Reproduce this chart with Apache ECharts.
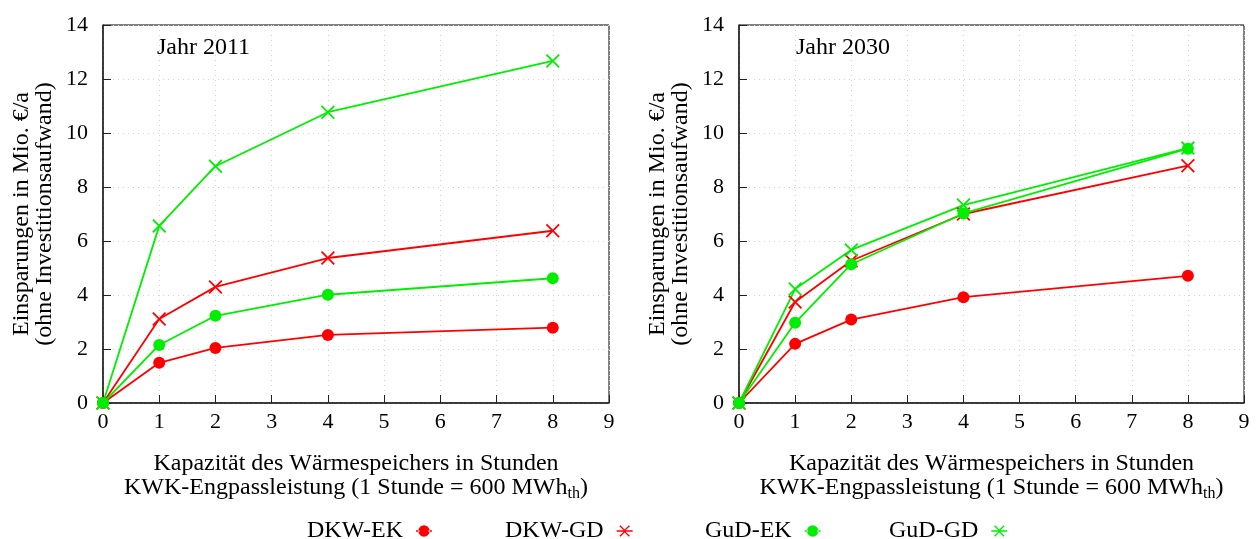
<!DOCTYPE html>
<html>
<head>
<meta charset="utf-8">
<script src="https://cdn.jsdelivr.net/npm/echarts@6/dist/echarts.min.js"></script>
<style>
    html, body {margin: 0; padding: 0; background: #fff;}
    #main {width: 1257px; height: 539px;}
</style>
</head>
<body>
<div id="main"></div>
<script>
    // Kapazität in Stunden
    var hours = [0, 1, 2, 4, 8];
    var seriesNames = ['DKW-EK', 'DKW-GD', 'GuD-EK', 'GuD-GD'];

    // Jahr 2011
    var dkwEk2011 = [0, 1.49, 2.04, 2.52, 2.79];
    var dkwGd2011 = [0, 3.11, 4.3, 5.37, 6.38];
    var gudEk2011 = [0, 2.15, 3.23, 4.01, 4.62];
    var gudGd2011 = [0, 6.56, 8.77, 10.77, 12.67];

    // Jahr 2030
    var dkwEk2030 = [0, 2.19, 3.09, 3.92, 4.71];
    var dkwGd2030 = [0, 3.74, 5.27, 7.0, 8.79];
    var gudEk2030 = [0, 2.97, 5.14, 7.02, 9.42];
    var gudGd2030 = [0, 4.22, 5.67, 7.33, 9.44];

    var xTicks = [0, 1, 2, 3, 4, 5, 6, 7, 8, 9];
    var yTicks = [0, 2, 4, 6, 8, 10, 12, 14];

    var RED = '#ff0000', GREEN = '#00ee00';
    var FONT = 'Liberation Serif';
    var crossPath = 'path://M0,0.9L0.9,0L5,4.1L9.1,0L10,0.9L5.9,5L10,9.1L9.1,10L5,5.9L0.9,10L0,9.1L4.1,5Z';
    var dotIcon = 'path://M0,4.4h3v1.2h-3z M11,4.4h3v1.2h-3z M2,5a5,5 0 1,0 10,0a5,5 0 1,0 -10,0z';
    var starIcon = 'path://M0,4.4h2.6v1.2h-2.6z M11.4,4.4h2.6v1.2h-2.6z M2.4,0.9L3.3,0L7,3.7L10.7,0L11.6,0.9L7.9,4.4L11.6,4.4L11.6,5.6L7.9,5.6L11.6,9.1L10.7,10L7,6.3L3.3,10L2.4,9.1L6.1,5.6L2.4,5.6L2.4,4.4L6.1,4.4Z';

    function toPairs(vals) {
        return hours.map(function (h, i) {
            return [h, vals[i]];
        });
    }

    function makeSeries(name, vals, color, cross, idx) {
        return {
            name: name,
            type: 'line',
            xAxisIndex: idx,
            yAxisIndex: idx,
            data: toPairs(vals),
            symbol: cross ? crossPath : 'circle',
            symbolSize: cross ? 14 : 12,
            lineStyle: {color: color, width: 1.8},
            itemStyle: {color: color},
            animation: false
        };
    }

    function xAxis(idx) {
        return {
            type: 'value', gridIndex: idx, min: 0, max: 9, interval: 1,
            axisLine: {lineStyle: {color: '#222', width: 1.5}},
            axisTick: {inside: true, length: 8, lineStyle: {color: '#222'}},
            axisLabel: {color: '#000', fontFamily: FONT, fontSize: 22, margin: 8,
                formatter: function (v) { return xTicks.indexOf(v) >= 0 ? String(v) : ''; }},
            splitLine: {show: true, lineStyle: {color: '#d4d4d4', type: [1, 4], width: 1}},
            name: '{a|Kapazität des Wärmespeichers in Stunden}\n{a|KWK-Engpassleistung (1 Stunde = 600 MWh}{s|th}{a|)}',
            nameLocation: 'middle',
            nameGap: 49,
            nameTextStyle: {
                color: '#000', fontFamily: FONT, fontSize: 24, lineHeight: 24,
                rich: {
                    a: {fontFamily: FONT, fontSize: 24, color: '#000', lineHeight: 24},
                    s: {fontFamily: FONT, fontSize: 16, color: '#000', lineHeight: 24, padding: [11, 0, 0, 0]}
                }
            }
        };
    }

    function yAxis(idx) {
        return {
            type: 'value', gridIndex: idx, min: 0, max: 14, interval: 2,
            axisLine: {show: true, lineStyle: {color: '#222', width: 1.5}},
            axisTick: {show: true, inside: true, length: 8, lineStyle: {color: '#222'}},
            axisLabel: {color: '#000', fontFamily: FONT, fontSize: 22, margin: 15,
                formatter: function (v) { return yTicks.indexOf(v) >= 0 ? String(v) : ''; }},
            splitLine: {show: true, lineStyle: {color: '#d4d4d4', type: [1, 4], width: 1}},
            name: 'Einsparungen in Mio. €/a\n(ohne Investitionsaufwand)',
            nameLocation: 'middle',
            nameRotate: 90,
            nameGap: 47,
            nameTextStyle: {color: '#000', fontFamily: FONT, fontSize: 24, lineHeight: 23}
        };
    }

    function legendAt(name, icon, left) {
        return {
            data: [{name: name, icon: icon}],
            left: left, top: 514,
            align: 'right',
            itemWidth: 16, itemHeight: 12,
            textStyle: {color: '#000', fontFamily: FONT, fontSize: 24, padding: [0, 8, 0, 0]}
        };
    }

    var chartDom = document.getElementById('main');
    var myChart = echarts.init(chartDom, null, {renderer: 'canvas'});
    var option = {
        backgroundColor: '#fff',
        animation: false,
        title: [
            {text: 'Jahr 2011', left: 152, top: 31, textStyle: {fontFamily: FONT, fontSize: 24, fontWeight: 'normal', color: '#000'}},
            {text: 'Jahr 2030', left: 791, top: 31, textStyle: {fontFamily: FONT, fontSize: 24, fontWeight: 'normal', color: '#000'}}
        ],
        legend: [
            legendAt('DKW-EK', dotIcon, 302),
            legendAt('DKW-GD', starIcon, 500),
            legendAt('GuD-EK', dotIcon, 700),
            legendAt('GuD-GD', starIcon, 884)
        ],
        color: [RED, RED, GREEN, GREEN],
        grid: [
            {left: 103, top: 25, width: 506, height: 378, show: true, borderColor: '#000', borderWidth: 1},
            {left: 739, top: 25, width: 505, height: 378, show: true, borderColor: '#000', borderWidth: 1}
        ],
        xAxis: [xAxis(0), xAxis(1)],
        yAxis: [yAxis(0), yAxis(1)],
        series: [
            makeSeries(seriesNames[0], dkwEk2011, RED, false, 0),
            makeSeries(seriesNames[1], dkwGd2011, RED, true, 0),
            makeSeries(seriesNames[2], gudEk2011, GREEN, false, 0),
            makeSeries(seriesNames[3], gudGd2011, GREEN, true, 0),
            makeSeries(seriesNames[0], dkwEk2030, RED, false, 1),
            makeSeries(seriesNames[1], dkwGd2030, RED, true, 1),
            makeSeries(seriesNames[2], gudEk2030, GREEN, false, 1),
            makeSeries(seriesNames[3], gudGd2030, GREEN, true, 1)
        ]
    };

    option && myChart.setOption(option);
</script>
</body>
</html>
